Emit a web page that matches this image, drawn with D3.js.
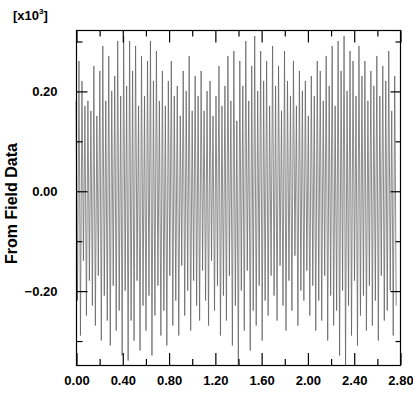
<!DOCTYPE html>
<html>
<head>
<meta charset="utf-8">
<script src="https://cdn.jsdelivr.net/npm/d3@7"></script>
<style>
  body { margin: 0; background: #fff; }
  text { font-family: "Liberation Sans", Arial, sans-serif; }
</style>
</head>
<body>
<div id="plot"></div>
<script>
// signal: one crest and one trough per cycle (x10^3)
const peakVals = [
  0.18, 0.26, 0.22, 0.17, 0.18, 0.16,
  0.25, 0.15, 0.24, 0.29, 0.18, 0.27, 0.20, 0.23, 0.30, 0.19,
  0.31, 0.21, 0.30, 0.24, 0.29, 0.17, 0.27, 0.19, 0.26, 0.30, 0.22, 0.28, 0.18,
  0.24, 0.17, 0.22, 0.26, 0.19, 0.21, 0.15, 0.24, 0.20, 0.27, 0.16, 0.23, 0.19,
  0.24, 0.16, 0.20, 0.22, 0.15, 0.19, 0.25, 0.17, 0.21, 0.27, 0.18, 0.28,
  0.14, 0.26, 0.21, 0.30, 0.18, 0.25, 0.31, 0.20, 0.28, 0.22, 0.26, 0.17, 0.29,
  0.21, 0.25, 0.16, 0.28, 0.22, 0.19, 0.26, 0.17, 0.24, 0.20, 0.22, 0.15,
  0.23, 0.19, 0.26, 0.24, 0.18, 0.27, 0.21, 0.29, 0.17, 0.30, 0.24, 0.31,
  0.20, 0.28, 0.26, 0.19, 0.29, 0.23, 0.26, 0.18, 0.24, 0.21, 0.27, 0.19, 0.25, 0.22, 0.28, 0.16, 0.23
];
const troughVals = [
  -0.22, -0.29, -0.14, -0.25, -0.18, -0.23,
  -0.27, -0.17, -0.30, -0.21, -0.26, -0.31, -0.19, -0.28, -0.24, -0.33,
  -0.20, -0.34, -0.26, -0.30, -0.18, -0.32, -0.23, -0.28, -0.21, -0.33, -0.25, -0.19, -0.29,
  -0.24, -0.31, -0.17, -0.27, -0.22, -0.29, -0.15, -0.25, -0.20, -0.28, -0.18, -0.23, -0.26,
  -0.16, -0.22, -0.27, -0.14, -0.24, -0.19, -0.29, -0.21, -0.26, -0.17, -0.31, -0.23,
  -0.35, -0.20, -0.28, -0.16, -0.32, -0.24, -0.27, -0.19, -0.30, -0.22, -0.25, -0.17, -0.21,
  -0.26, -0.15, -0.23, -0.28, -0.18, -0.24, -0.13, -0.27, -0.20, -0.22, -0.16, -0.25,
  -0.19, -0.28, -0.22, -0.26, -0.17, -0.30, -0.21, -0.27, -0.24, -0.33, -0.20, -0.35,
  -0.23, -0.29, -0.18, -0.31, -0.25, -0.21, -0.28, -0.19, -0.27, -0.22, -0.30, -0.17, -0.26, -0.24, -0.20, -0.29, -0.23
];
const tStart = 0.0;
const tEnd = 2.78;

const xTicks = [0, 0.4, 0.8, 1.2, 1.6, 2.0, 2.4, 2.8];
const xMinor = [0.2, 0.6, 1.0, 1.4, 1.8, 2.2, 2.6];
const yTicks = [-0.2, 0.0, 0.2];
const yMinor = [-0.3, -0.1, 0.1, 0.3];

function main(){
  const W = 413, H = 393;
  const margin = {top: 30, right: 13, bottom: 28, left: 76};
  const width = W - margin.left - margin.right;
  const height = H - margin.top - margin.bottom;

  var svg = d3.select("#plot")
      .append("svg")
      .attr("width", W)
      .attr("height", H)
    .append("g")
      .attr("transform", `translate(${margin.left}, ${margin.top})`);

  const x = d3.scaleLinear().domain([0, 2.8]).range([0, width]);
  const y = d3.scaleLinear().domain([-0.349, 0.322]).range([height, 0]);

  // interleave crest / trough samples along time
  const n = peakVals.length;
  const dt = (tEnd - tStart) / n;
  const data = [];
  for (let i = 0; i < n; i++) {
    data.push({t: tStart + i * dt, v: peakVals[i]});
    data.push({t: tStart + (i + 0.5) * dt, v: troughVals[i]});
  }

  svg.append("path")
    .datum(data)
    .attr("fill", "none")
    .attr("stroke", "#5a5a5a")
    .attr("stroke-width", 0.7)
    .attr("d", d3.line().x(d => x(d.t)).y(d => y(d.v)));

  // frame
  svg.append("rect")
    .attr("x", 0.5).attr("y", 0.5)
    .attr("width", width).attr("height", height)
    .attr("fill", "none")
    .attr("stroke", "#000")
    .attr("stroke-width", 1.2);

  const fmt = d3.format(".2f");

  // bottom axis: inward ticks
  const xb = svg.append("g")
    .attr("transform", `translate(0.5, ${height})`)
    .call(d3.axisBottom(x).tickValues(xTicks).tickSize(-12).tickFormat(fmt).tickPadding(11));
  xb.select(".domain").remove();
  xb.selectAll("text")
    .attr("font-size", 13).attr("font-weight", "bold")
    .attr("font-family", "Liberation Sans, Arial, sans-serif");
  svg.append("g")
    .attr("transform", `translate(0.5, ${height})`)
    .call(d3.axisBottom(x).tickValues(xMinor).tickSize(-6).tickFormat(""))
    .select(".domain").remove();

  // top axis
  const xt = svg.append("g").attr("transform", "translate(0.5, 0.5)");
  xt.call(d3.axisTop(x).tickValues(xTicks).tickSize(-12).tickFormat(""));
  xt.select(".domain").remove();
  const xt2 = svg.append("g").attr("transform", "translate(0.5, 0.5)");
  xt2.call(d3.axisTop(x).tickValues(xMinor).tickSize(-6).tickFormat(""));
  xt2.select(".domain").remove();

  // left axis
  const yl = svg.append("g")
    .attr("transform", "translate(0.5, 0.5)")
    .call(d3.axisLeft(y).tickValues(yTicks).tickSize(-11).tickFormat(fmt).tickPadding(19));
  yl.select(".domain").remove();
  yl.selectAll("text")
    .attr("font-size", 13).attr("font-weight", "bold")
    .attr("font-family", "Liberation Sans, Arial, sans-serif");
  svg.append("g")
    .attr("transform", "translate(0.5, 0.5)")
    .call(d3.axisLeft(y).tickValues(yMinor).tickSize(-6).tickFormat(""))
    .select(".domain").remove();

  // right axis
  svg.append("g")
    .attr("transform", `translate(${width + 0.5}, 0.5)`)
    .call(d3.axisRight(y).tickValues(yTicks).tickSize(-10).tickFormat(""))
    .select(".domain").remove();
  svg.append("g")
    .attr("transform", `translate(${width + 0.5}, 0.5)`)
    .call(d3.axisRight(y).tickValues(yMinor).tickSize(-5).tickFormat(""))
    .select(".domain").remove();

  svg.selectAll(".tick line").attr("stroke", "#000").attr("stroke-width", 1.2);

  // exponent label
  const ex = svg.append("text")
    .attr("x", -63).attr("y", -10)
    .attr("font-size", 13)
    .attr("font-weight", "bold")
    .attr("fill", "#000");
  ex.append("tspan").text("[x10");
  ex.append("tspan").attr("dy", -6).attr("font-size", 8).text("3");
  ex.append("tspan").attr("dy", 6).text("]");

  // y title
  svg.append("text")
    .attr("transform", `translate(-59, ${height / 2 + 6}) rotate(-90)`)
    .attr("text-anchor", "middle")
    .attr("font-size", 16)
    .attr("font-weight", "bold")
    .attr("fill", "#000")
    .text("From Field Data");
}

main();
</script>
</body>
</html>
